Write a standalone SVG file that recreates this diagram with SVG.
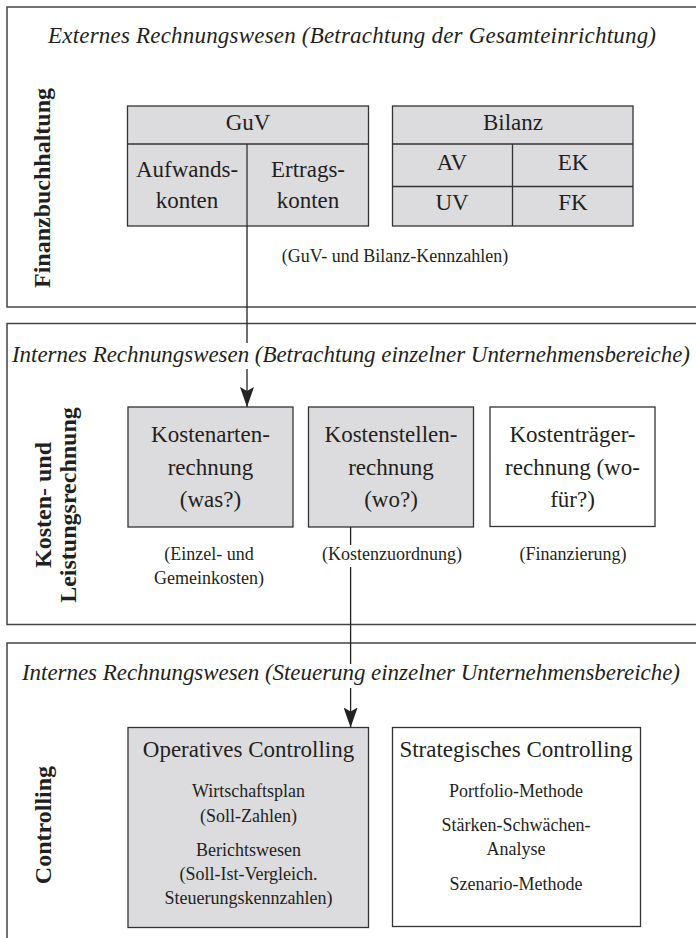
<svg xmlns="http://www.w3.org/2000/svg" width="696" height="938" viewBox="0 0 696 938">
<style>
text{font-family:"Liberation Serif","Times New Roman",serif;fill:#231f20}
.sec{fill:#fff;stroke:#444;stroke-width:1.5}
.box{stroke:#333;stroke-width:1.3}
.g{fill:#dcdcde}
.w{fill:#fff}
.ln{stroke:#333;stroke-width:1.3;fill:none}
.t{font-size:23px;text-anchor:middle}
.s{font-size:18px;text-anchor:middle}
.it{font-size:23px;font-style:italic;text-anchor:middle}
.v{font-size:24px;font-weight:bold;text-anchor:middle}
.con{stroke:#222;stroke-width:1.3;fill:none}
</style>
<defs>
<marker id="arr" viewBox="0 0 14 20" refX="7" refY="20" markerWidth="14" markerHeight="20" orient="0" markerUnits="userSpaceOnUse">
<path d="M0,0 L7,4 L14,0 L7,20 z" fill="#222"/>
</marker>
</defs>
<g id="section-finanz">
<rect class="sec" x="7" y="7" width="700" height="300"/>
<text class="it" x="352" y="43" textLength="608">Externes Rechnungswesen (Betrachtung der Gesamteinrichtung)</text>
<text class="v" transform="translate(50,188) rotate(-90)">Finanzbuchhaltung</text>
<text class="s" x="395" y="262">(GuV- und Bilanz-Kennzahlen)</text>
</g>
<g id="section-kosten">
<rect class="sec" x="7" y="323.5" width="700" height="301"/>
<text class="it" x="351" y="362" textLength="678">Internes Rechnungswesen (Betrachtung einzelner Unternehmensbereiche)</text>
<text class="v" transform="translate(51,505) rotate(-90)">Kosten- und</text>
<text class="v" transform="translate(76,505) rotate(-90)">Leistungsrechnung</text>
<text class="s" x="209" y="560">(Einzel- und</text>
<text class="s" x="209" y="584">Gemeinkosten)</text>
<text class="s" x="392" y="560">(Kostenzuordnung)</text>
<text class="s" x="573" y="560">(Finanzierung)</text>
</g>
<g id="section-controlling">
<rect class="sec" x="7" y="643" width="700" height="310"/>
<text class="it" x="351" y="680" textLength="658">Internes Rechnungswesen (Steuerung einzelner Unternehmensbereiche)</text>
<text class="v" transform="translate(51,825) rotate(-90)">Controlling</text>
</g>
<g id="guv">
<rect class="box g" x="127.5" y="106" width="241" height="120"/>
<path class="ln" d="M127.5,144 H368.5 M247,144 V226"/>
<text class="t" x="248" y="130">GuV</text>
<text class="t" x="187" y="177">Aufwands-</text>
<text class="t" x="187" y="208">konten</text>
<text class="t" x="308" y="177">Ertrags-</text>
<text class="t" x="308" y="208">konten</text>
</g>
<g id="bilanz">
<rect class="box g" x="392.5" y="106" width="240.5" height="120"/>
<path class="ln" d="M392.5,144 H633 M392.5,186.5 H633 M512.5,144 V226"/>
<text class="t" x="513" y="130">Bilanz</text>
<text class="t" x="452" y="170">AV</text>
<text class="t" x="573" y="170">EK</text>
<text class="t" x="452" y="210">UV</text>
<text class="t" x="573" y="210">FK</text>
</g>
<g id="kostenarten">
<rect class="box g" x="128" y="407" width="165" height="120"/>
<text class="t" x="210.5" y="442">Kostenarten-</text>
<text class="t" x="210.5" y="475">rechnung</text>
<text class="t" x="210.5" y="507">(was?)</text>
</g>
<g id="kostenstellen">
<rect class="box g" x="308.5" y="407" width="165" height="120"/>
<text class="t" x="391" y="442">Kostenstellen-</text>
<text class="t" x="391" y="475">rechnung</text>
<text class="t" x="391" y="507">(wo?)</text>
</g>
<g id="kostentraeger">
<rect class="box w" x="490" y="407" width="165" height="119.5"/>
<text class="t" x="572.5" y="442">Kostenträger-</text>
<text class="t" x="572.5" y="475">rechnung (wo-</text>
<text class="t" x="572.5" y="507">für?)</text>
</g>
<g id="operativ">
<rect class="box g" x="128" y="727.5" width="240.5" height="200"/>
<text class="t" x="248.5" y="757">Operatives Controlling</text>
<text class="s" x="248.5" y="797">Wirtschaftsplan</text>
<text class="s" x="248.5" y="822">(Soll-Zahlen)</text>
<text class="s" x="248.5" y="856">Berichtswesen</text>
<text class="s" x="248.5" y="880">(Soll-Ist-Vergleich.</text>
<text class="s" x="248.5" y="904">Steuerungskennzahlen)</text>
</g>
<g id="strategisch">
<rect class="box w" x="392.5" y="727.5" width="248" height="199"/>
<text class="t" x="516" y="757">Strategisches Controlling</text>
<text class="s" x="516" y="797">Portfolio-Methode</text>
<text class="s" x="516" y="831">Stärken-Schwächen-</text>
<text class="s" x="516" y="855">Analyse</text>
<text class="s" x="516" y="890">Szenario-Methode</text>
</g>
<g id="connectors">
<path class="con" d="M247,226 V343 M247,369 V407" marker-end="url(#arr)"/>
<path class="con" d="M350.6,527 V545 M350.6,567 V664 M350.6,688 V727.5" marker-end="url(#arr)"/>
</g>
</svg>
